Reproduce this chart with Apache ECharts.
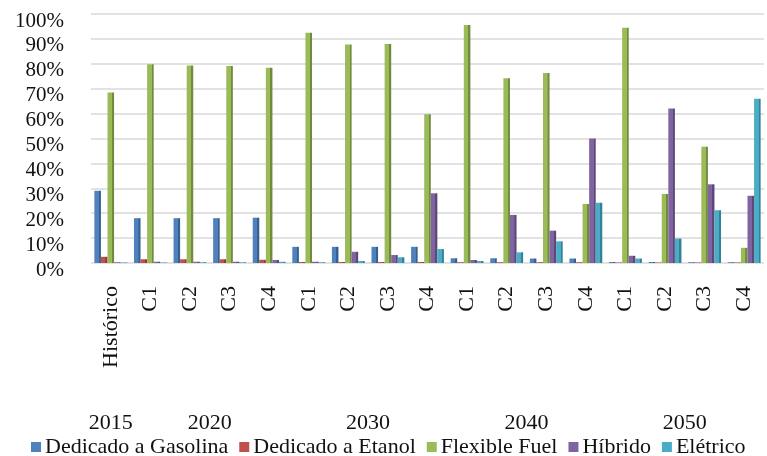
<!DOCTYPE html>
<html>
<head>
<meta charset="utf-8">
<script src="https://cdn.jsdelivr.net/npm/echarts@6/dist/echarts.min.js"></script>
<style>
  html, body { margin: 0; padding: 0; background: #fff; }
  #chart { width: 767px; height: 456px; }
</style>
</head>
<body>
<div id="chart"></div>
<script>
// Scenario labels along the x axis
const categories = ['Histórico', 'C1', 'C2', 'C3', 'C4', 'C1', 'C2', 'C3', 'C4',
  'C1', 'C2', 'C3', 'C4', 'C1', 'C2', 'C3', 'C4'];

// Year labels, placed at the (fractional) category index they centre on
const yearPositions = [0, 2.5, 6.5, 10.5, 14.5];
const yearLabels = ['2015', '2020', '2030', '2040', '2050'];

// Fleet share by technology (%)
const gasolina = [29, 18, 18, 18, 18.2, 6.5, 6.5, 6.5, 6.5, 1.9, 1.9, 1.8, 1.8, 0.4, 0.4, 0.3, 0.3];
const etanol = [2.5, 1.5, 1.5, 1.5, 1.3, 0.4, 0.4, 0.4, 0.4, 0.3, 0.3, 0.3, 0.3, 0.2, 0.2, 0.2, 0.2];
const flexFuel = [68.5, 79.8, 79.3, 79.1, 78.4, 92.5, 87.8, 88, 59.7, 95.6, 74.2, 76.3, 23.7, 94.5, 27.7, 46.7, 6.1];
const hibrido = [0.3, 0.5, 0.5, 0.5, 1.2, 0.5, 4.5, 3.2, 28, 1.2, 19.3, 13, 50, 2.9, 62, 31.6, 27];
const eletrico = [0.2, 0.2, 0.3, 0.3, 0.5, 0.3, 0.8, 2.3, 5.6, 0.8, 4.3, 8.7, 24.2, 1.8, 9.8, 21.2, 66];

const seriesNames = ['Dedicado a Gasolina', 'Dedicado a Etanol', 'Flexible Fuel', 'Híbrido', 'Elétrico'];
const seriesData = [gasolina, etanol, flexFuel, hibrido, eletrico];
const colors = ['#4F81BD', '#C0504D', '#9BBB59', '#8064A2', '#4BACC6'];
const shades = ['#35608f', '#923a38', '#718a3e', '#5d4878', '#33829a'];

const FONT = '"Liberation Serif", "Times New Roman", serif';

const chart = echarts.init(document.getElementById('chart'));

// Shaded column face: lit front with a darker right edge
function faceColor(i) {
  return new echarts.graphic.LinearGradient(0, 0, 1, 0, [
    { offset: 0, color: colors[i] },
    { offset: 0.68, color: colors[i] },
    { offset: 0.7, color: shades[i] },
    { offset: 1, color: shades[i] }
  ]);
}

chart.setOption({
  animation: false,
  backgroundColor: '#fff',
  grid: { left: 91, right: 0, top: 14, bottom: 193, containLabel: false },
  legend: {
    data: seriesNames.map((n, i) => ({ name: n, itemStyle: { color: colors[i] } })),
    left: 26,
    top: 431,
    icon: 'rect',
    itemWidth: 10,
    itemHeight: 10,
    itemGap: 11,
    textStyle: { fontFamily: FONT, fontSize: 22, color: '#111', padding: [0, 0, 0, -1] }
  },
  xAxis: [
    {
      type: 'category',
      data: categories,
      axisLine: { show: false },
      axisTick: { show: false },
      axisLabel: {
        rotate: 90,
        interval: 0,
        margin: 23,
        fontFamily: FONT,
        fontSize: 22,
        color: '#111'
      }
    },
    {
      type: 'value',
      position: 'bottom',
      min: -0.5,
      max: 16.5,
      interval: 0.5,
      axisLine: { show: false },
      axisTick: { show: false },
      splitLine: { show: false },
      axisLabel: {
        margin: 149,
        fontFamily: FONT,
        fontSize: 22,
        color: '#111',
        showMinLabel: true,
        showMaxLabel: true,
        formatter: function (v) {
          const k = yearPositions.indexOf(v);
          return k >= 0 ? yearLabels[k] : '';
        }
      }
    }
  ],
  yAxis: {
    type: 'value',
    min: 0,
    max: 100,
    interval: 10,
    axisLine: { show: false },
    axisTick: { show: false },
    splitLine: { lineStyle: { color: '#d9d9d9', width: 1.5 } },
    axisLabel: {
      formatter: '{value}%',
      margin: 27,
      verticalAlign: 'top',
      lineHeight: 14,
      fontFamily: FONT,
      fontSize: 21,
      color: '#111'
    }
  },
  series: seriesNames.map((name, i) => ({
    name: name,
    type: 'bar',
    xAxisIndex: 0,
    data: seriesData[i],
    barGap: '0%',
    barCategoryGap: '17%',
    itemStyle: { color: faceColor(i) }
  }))
});
</script>
</body>
</html>
